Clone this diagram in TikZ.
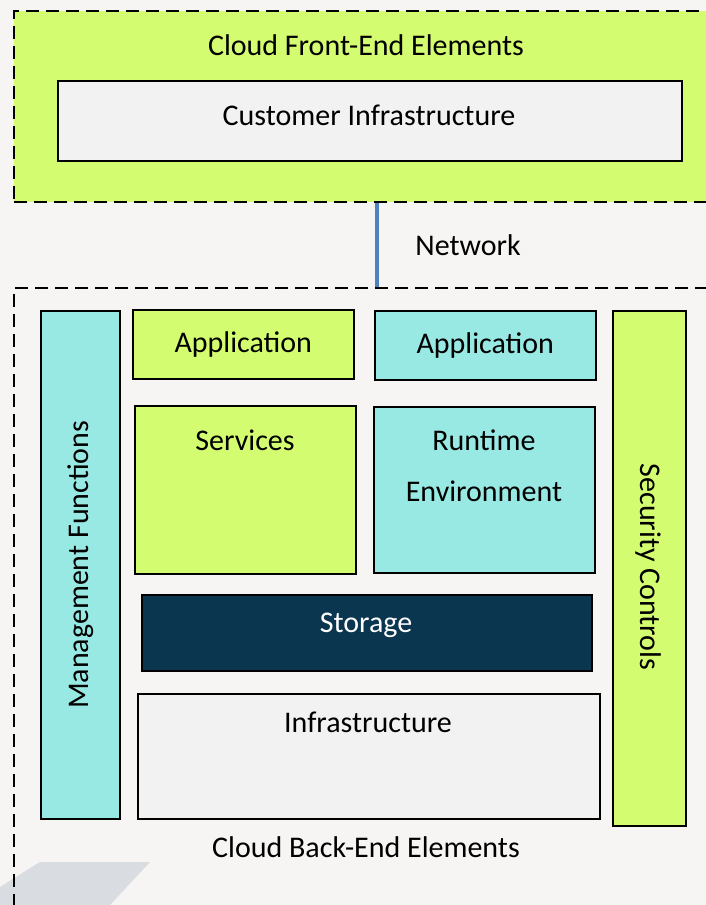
\documentclass[tikz,border=0pt]{standalone}
\usepackage{fontspec}
\setmainfont{Carlito}
\definecolor{fond}{HTML}{F6F5F3}
\definecolor{citron}{HTML}{D4FC70}
\definecolor{turquoise}{HTML}{98E8E3}
\definecolor{marine}{HTML}{0B3650}
\definecolor{gris}{HTML}{F2F2F2}
\definecolor{filigrane}{HTML}{D9DCE0}
\definecolor{reseau}{HTML}{4F81BD}
\tikzset{
  bloc/.style={draw=black, line width=1.6pt, inner sep=0pt},
  cadre/.style={draw=black, line width=1.6pt, dash pattern=on 13pt off 7pt, inner sep=0pt},
  texte/.style={font=\fontsize{30}{36}\selectfont, inner sep=0pt, align=center}
}
\begin{document}
\begin{tikzpicture}[x=1pt, y=-1pt]
  % fond de l'image
  \useasboundingbox (0,0) rectangle (706,905);
  \fill[fond] (0,0) rectangle (706,905);
  \clip (0,0) rectangle (706,905);
  % filigrane en bas a gauche
  \fill[filigrane] (0,887) -- (40,862) -- (150,862) -- (110,905) -- (0,905) -- cycle;

  % dessiner le front-end
  \node[cadre, fill=citron, minimum width=707pt, minimum height=191pt, anchor=north west] (front) at (13,10) {};
  \node[texte] (fronttitre) at (366,45) {Cloud Front-End Elements};
  \node[bloc, fill=gris, minimum width=624pt, minimum height=80pt, anchor=north west] (client) at (57,80) {};
  \node[texte] (clienttexte) at (369,115) {Customer Infrastructure};

  % dessiner le back-end
  \node[cadre, minimum width=707pt, minimum height=640pt, anchor=north west] (back) at (13,287) {};
  \coordinate (netx) at (377,0);
  \draw[reseau, line width=4.5pt] (front.south -| netx) -- (back.north -| netx);
  \node[texte] (reseautexte) at (468,245) {Network};

  % les blocs du back-end
  \node[bloc, fill=turquoise, minimum width=79pt, minimum height=508pt, anchor=north west] (gestion) at (40,310) {};
  \node[texte, rotate=90] (gestiontexte) at (gestion.center) {Management Functions};
  \node[bloc, fill=citron, minimum width=221pt, minimum height=69pt, anchor=north west] (appa) at (132,309) {};
  \node[texte] (appatexte) at (appa.center) {Application};
  \node[bloc, fill=turquoise, minimum width=221pt, minimum height=69pt, anchor=north west] (appb) at (374,310) {};
  \node[texte] (appbtexte) at (appb.center) {Application};
  \node[bloc, fill=citron, minimum width=221pt, minimum height=168pt, anchor=north west] (services) at (134,405) {};
  \node[texte] (servicestexte) at (245,440) {Services};
  \node[bloc, fill=turquoise, minimum width=221pt, minimum height=166pt, anchor=north west] (runtime) at (373,406) {};
  \node[texte, font=\fontsize{30}{51}\selectfont] (runtimetexte) at (484,466) {Runtime\\Environment};
  \node[bloc, fill=marine, minimum width=450pt, minimum height=76pt, anchor=north west] (stockage) at (141,594) {};
  \node[texte, text=white] (stockagetexte) at (366,625) {Storage};
  \node[bloc, fill=gris, minimum width=462pt, minimum height=125pt, anchor=north west] (infra) at (137,693) {};
  \node[texte] (infratexte) at (368,722) {Infrastructure};
  \node[bloc, fill=citron, minimum width=73pt, minimum height=515pt, anchor=north west] (securite) at (612,310) {};
  \node[texte, rotate=-90] (securitetexte) at (648,567) {Security Controls};
  \node[texte] (backtitre) at (366,847) {Cloud Back-End Elements};
\end{tikzpicture}
\end{document}
